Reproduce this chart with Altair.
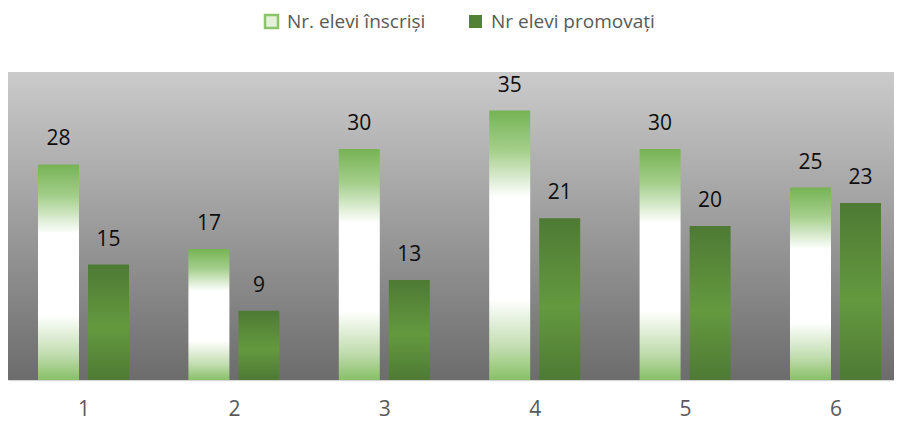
import altair as alt
import pandas as pd

categories = [1, 2, 3, 4, 5, 6]
inscrisi = [28, 17, 30, 35, 30, 25]
promovati = [15, 9, 13, 21, 20, 23]
series = ["Nr. elevi înscriși", "Nr elevi promovați"]

df = pd.DataFrame({
    "cat": categories,
    "inscrisi": inscrisi,
    "promovati": promovati,
    "s1": [series[0]] * len(categories),
    "s2": [series[1]] * len(categories),
})
bg_df = pd.DataFrame({"k": [0]})

FONT = "Open Sans"
W, H = 886, 308


def grad(stops):
    return {
        "gradient": "linear", "x1": 0, "y1": 0, "x2": 0, "y2": 1,
        "stops": [{"offset": o, "color": c} for o, c in stops],
    }


xs = alt.Scale(domain=[0.498, 6.389], nice=False, zero=False, padding=0)
ys = alt.Scale(domain=[0, 40], nice=False, zero=True)
cs1 = alt.Scale(domain=[series[0]], range=["#e4f1db"])
cs2 = alt.Scale(domain=[series[1]], range=["#548235"])

x_axis = alt.Axis(values=categories, title=None, grid=False, ticks=False,
                  domainColor="#d9d9d9", domainWidth=1.5, labelFontSize=21,
                  labelColor="#595959", labelFont=FONT, labelPadding=18,
                  labelAngle=0, format="d")

leg_common = dict(title=None, orient="none", legendY=-60, direction="horizontal",
                  symbolType="square", symbolSize=169, labelFont=FONT,
                  labelFontSize=19, labelColor="#595959", labelOffset=6,
                  labelLimit=400)
legend1 = alt.Legend(legendX=254, symbolStrokeColor="#8cc46c",
                     symbolStrokeWidth=2.5, **leg_common)
legend2 = alt.Legend(legendX=458, symbolStrokeWidth=0, **leg_common)

bg = alt.Chart(bg_df).mark_rect(
    fill=grad([(0, "#cbcbcb"), (1, "#6c6c6c")])
).encode(x=alt.value(0), x2=alt.value("width"), y=alt.value(0), y2=alt.value("height"))

g1 = grad([(0, "#76b354"), (0.15, "#a5cf8c"), (0.32, "#ffffff"), (0.70, "#ffffff"),
           (0.88, "#c2ddb0"), (1, "#88c067")])
g2 = grad([(0, "#4e7a34"), (0.55, "#64993f"), (1, "#4e7a34")])

b1 = alt.Chart(df).mark_bar(fill=g1, width=41, xOffset=-25, orient="vertical").encode(
    x=alt.X("cat:Q", scale=xs, axis=x_axis),
    y=alt.Y("inscrisi:Q", scale=ys, axis=None),
    color=alt.Color("s1:N", scale=cs1, legend=legend1),
)
b2 = alt.Chart(df).mark_bar(fill=g2, width=41, xOffset=25, orient="vertical").encode(
    x=alt.X("cat:Q", scale=xs, axis=x_axis),
    y=alt.Y("promovati:Q", scale=ys, axis=None),
    color=alt.Color("s2:N", scale=cs2, legend=legend2),
)
t1 = alt.Chart(df).mark_text(dx=-25, dy=-19, baseline="alphabetic", fontSize=21,
                             font=FONT, color="#0d0d0d").encode(
    x=alt.X("cat:Q", scale=xs, axis=x_axis),
    y=alt.Y("inscrisi:Q", scale=ys, axis=None),
    text="inscrisi:Q",
)
t2 = alt.Chart(df).mark_text(dx=25, dy=-19, baseline="alphabetic", fontSize=21,
                             font=FONT, color="#0d0d0d").encode(
    x=alt.X("cat:Q", scale=xs, axis=x_axis),
    y=alt.Y("promovati:Q", scale=ys, axis=None),
    text="promovati:Q",
)

chart = alt.layer(bg, b1, b2, t1, t2).resolve_scale(color="independent").properties(
    width=W, height=H,
    padding={"left": 0, "top": 64, "right": 0, "bottom": 41},
    autosize=alt.AutoSizeParams(type="none"),
).configure_view(stroke=None)

chart.save("out.html", embed_options={"renderer": "svg", "actions": False})
